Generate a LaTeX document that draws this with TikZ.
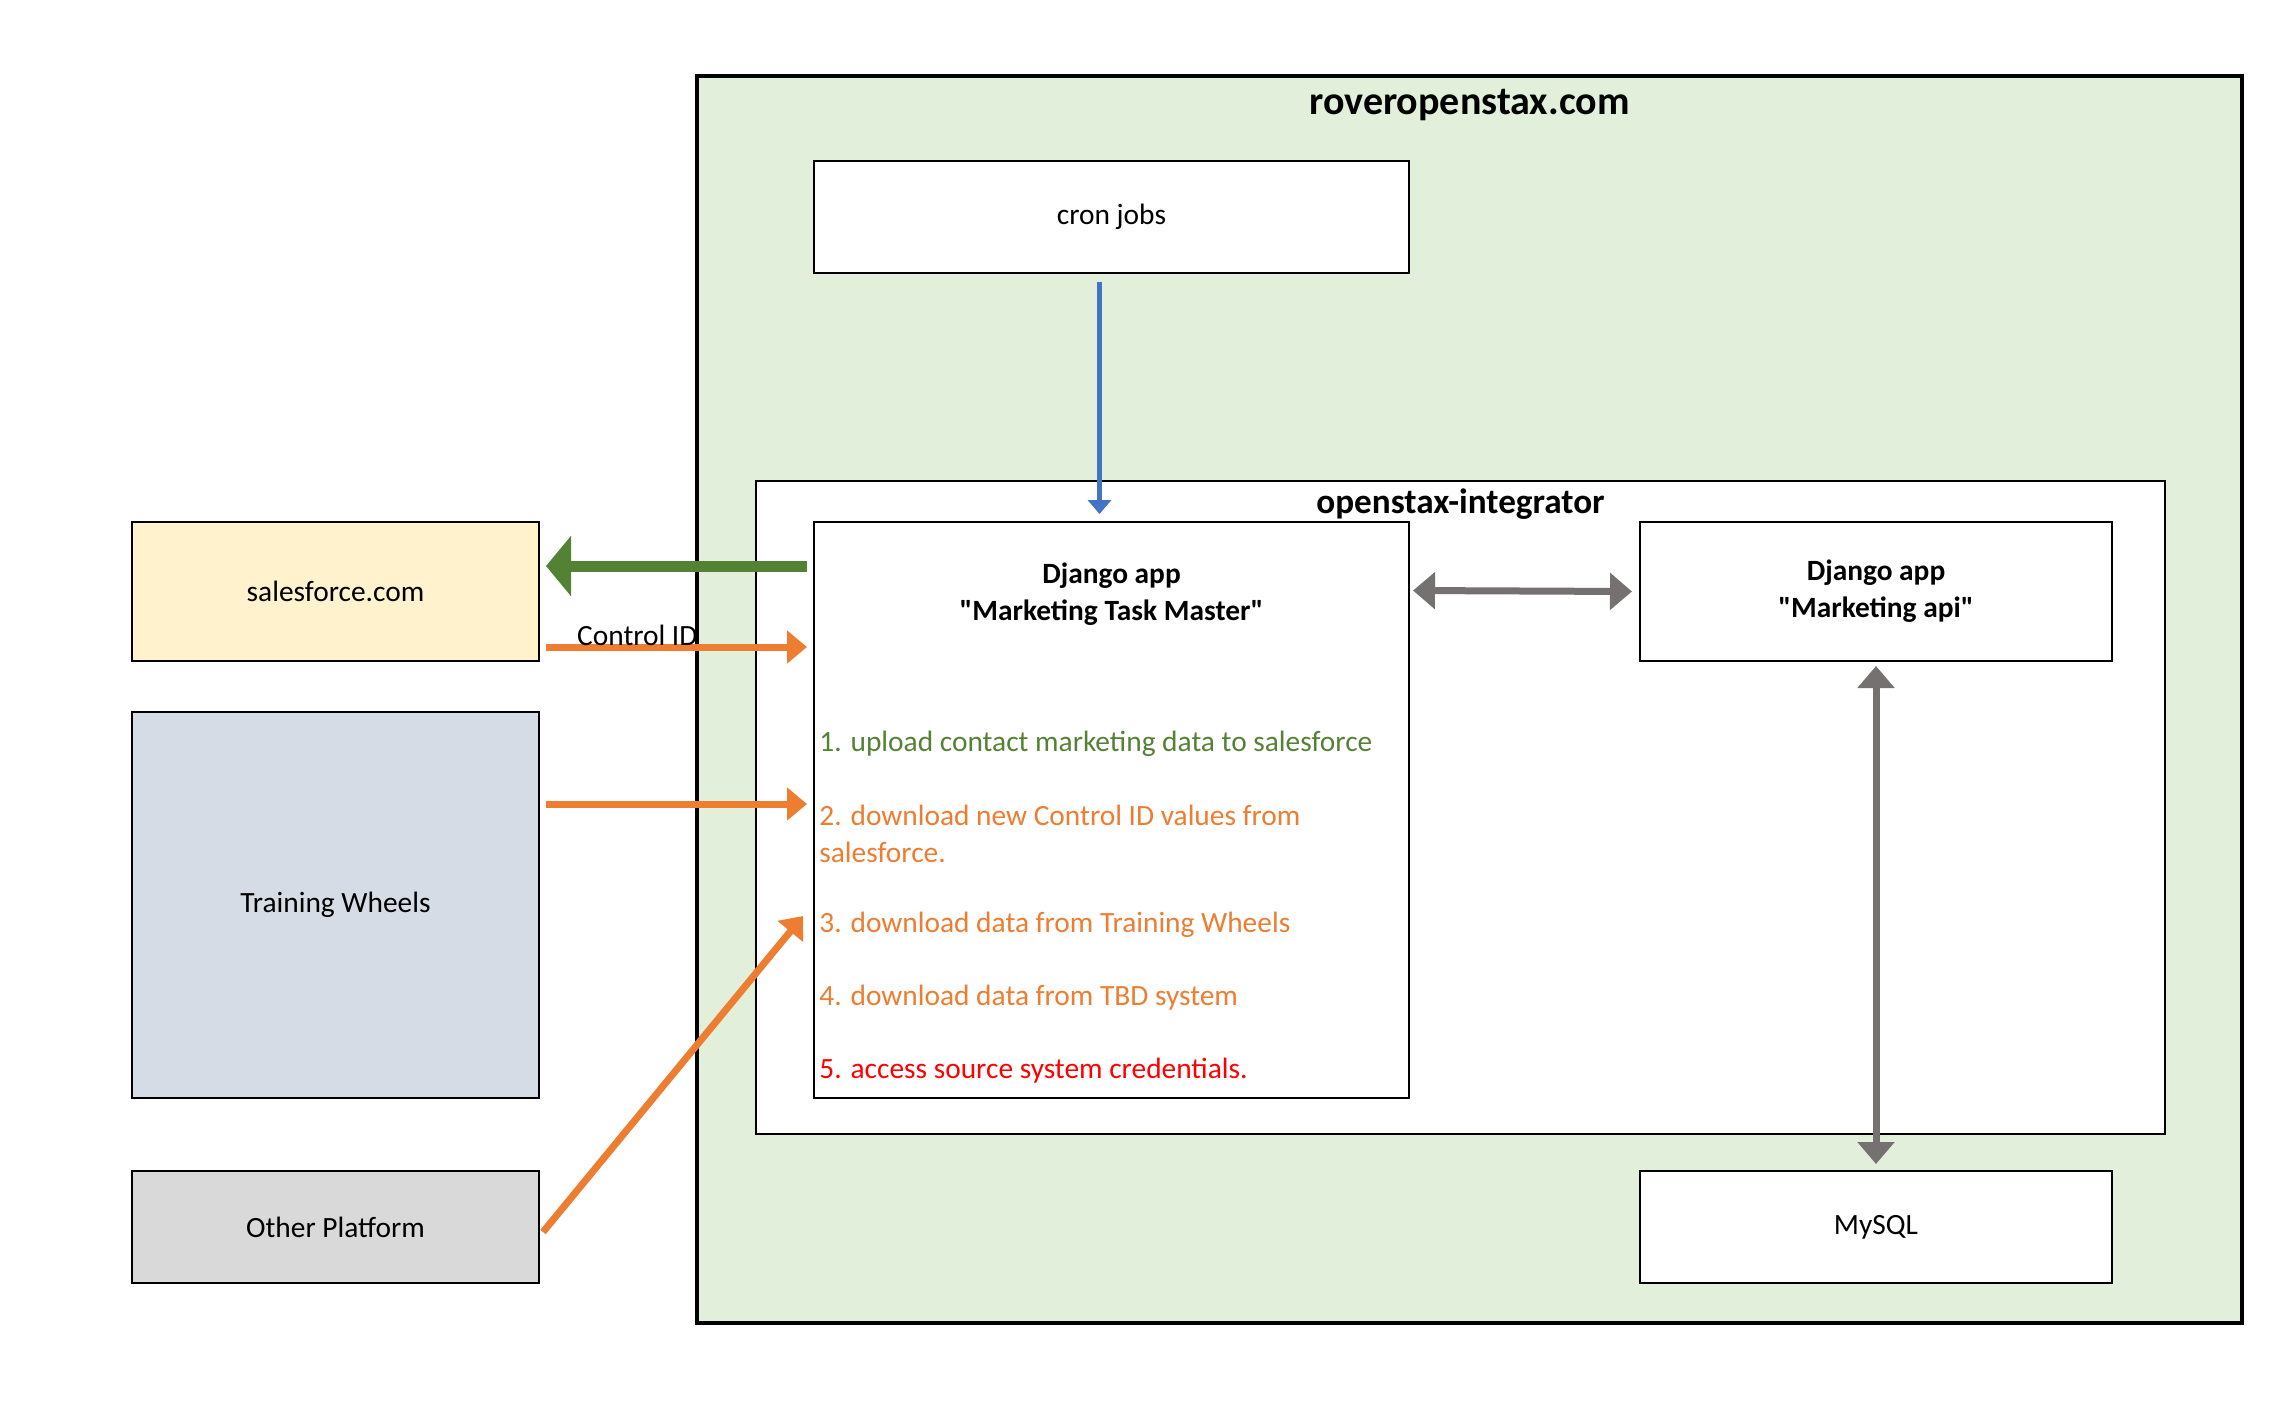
\documentclass[tikz,border=0pt]{standalone}
\usepackage{fontspec}
\setmainfont{Carlito}
\usetikzlibrary{calc,positioning,arrows.meta}
\definecolor{RoverFill}{HTML}{E2EFDA}
\definecolor{SalesFill}{HTML}{FFF2CC}
\definecolor{WheelsFill}{HTML}{D6DCE5}
\definecolor{OtherFill}{HTML}{D9D9D9}
\definecolor{UploadGreen}{HTML}{548235}
\definecolor{FetchOrange}{HTML}{ED7D31}
\definecolor{CronBlue}{HTML}{4472C4}
\definecolor{LinkGray}{HTML}{767171}

\begin{document}
\begin{tikzpicture}[x=0.5pt,y=-0.5pt,every node/.style={draw,align=center,inner sep=0pt,font=\fontsize{14.7}{18.5}\selectfont},
  box/.style={draw,line width=1pt,fill=white},
  label/.style={draw=none,fill=none},
  item/.style={draw=none,anchor=west,align=left},
  fetch/.style={draw=FetchOrange,line width=3.5pt,-{Triangle[length=10pt,width=16pt]}},
  link/.style={draw=LinkGray,line width=3.5pt,{Triangle[length=11pt,width=18pt]}-{Triangle[length=11pt,width=18pt]}}]
\useasboundingbox (0,0) rectangle (2292,1404);
\node [box,fill=RoverFill,line width=2pt,minimum width=772.5pt,minimum height=623.5pt] (RoverOpenstax) at (1469.5,699.5) {};
\node [label,font=\bfseries\fontsize{20}{24}\selectfont] (RoverOpenstaxTitle) at ($(RoverOpenstax.north)+(0,31)$) {roveropenstax.com};
\node [box,minimum width=297.5pt,minimum height=56pt] (CronJobs) at (1111.5,217) {cron jobs};
\node [box,minimum width=704.5pt,minimum height=326.5pt] (Integrator) at (1460.5,807.5) {};
\node [label,font=\bfseries\fontsize{17.6}{21}\selectfont] (IntegratorTitle) at ($(Integrator.north)+(0,24)$) {openstax-integrator};
\node [box,minimum width=297.5pt,minimum height=288pt] (TaskMaster) at (1111.5,810) {};
\node [label,font=\bfseries\fontsize{14.7}{18.5}\selectfont] (TaskMasterTitle) at ($(TaskMaster.north)+(0,73)$) {Django app\\\textquotedbl Marketing Task Master\textquotedbl};
\node [item,text=UploadGreen] (StepOne) at ($(TaskMaster.north west)+(6,223)$) {1. upload contact marketing data to salesforce};
\node [item,text=FetchOrange] (StepTwo) at ($(TaskMaster.north west)+(6,313)$) {2. download new Control ID values from\\salesforce.};
\node [item,text=FetchOrange] (StepThree) at ($(TaskMaster.north west)+(6,404)$) {3. download data from Training Wheels};
\node [item,text=FetchOrange] (StepFour) at ($(TaskMaster.north west)+(6,477)$) {4. download data from TBD system};
\node [item,text=red] (StepFive) at ($(TaskMaster.north west)+(6,550)$) {5. access source system credentials.};
\node [box,minimum width=236pt,minimum height=69.5pt,font=\bfseries\fontsize{14.7}{18.5}\selectfont] (MarketingApi) at (1876,591.5) {Django app\\\textquotedbl Marketing api\textquotedbl};
\node [box,minimum width=236pt,minimum height=56pt] (MySql) at (1876,1227) {MySQL};
\node [box,fill=SalesFill,minimum width=203.5pt,minimum height=69.5pt] (Salesforce) at (335.5,591.5) {salesforce.com};
\node [box,fill=WheelsFill,minimum width=203.5pt,minimum height=193pt] (TrainingWheels) at (335.5,905) {Training Wheels};
\node [box,fill=OtherFill,minimum width=203.5pt,minimum height=56pt] (OtherPlatform) at (335.5,1227) {Other Platform};
\draw [CronBlue,line width=2.5pt,-{Triangle[length=7pt,width=11.5pt]}] ($(CronJobs.south)+(-12,8)$) -- ($(TaskMaster.north)+(-12,-7)$);
\draw [UploadGreen,line width=5.5pt,-{Triangle[length=12.5pt,width=29.5pt]}] ($(TaskMaster.north west)+(-6,45)$) -- ($(Salesforce.north east)+(6,45)$);
\draw [fetch] ($(Salesforce.north east)+(6,126)$) -- node [label,above=-1pt,pos=0.35] (ControlIdLabel) {Control ID} ($(TaskMaster.north west)+(-6,126)$);
\draw [fetch] ($(TrainingWheels.north east)+(6,93)$) -- ($(TaskMaster.north west)+(-6,283)$);
\draw [fetch] ($(OtherPlatform.east)+(3,5)$) -- ($(TaskMaster.north west)+(-10,395)$);
\draw [link] ($(TaskMaster.north east)+(3,69.5)$) -- ($(MarketingApi.west)+(-7,0)$);
\draw [link] ($(MarketingApi.south)+(0,4)$) -- ($(MySql.north)+(0,-6)$);
\end{tikzpicture}
\end{document}
